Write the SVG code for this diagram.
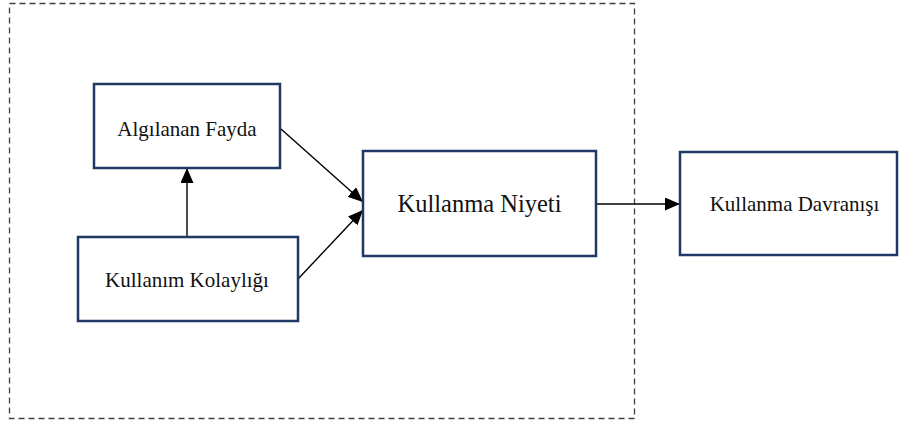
<svg xmlns="http://www.w3.org/2000/svg" width="903" height="426" viewBox="0 0 903 426">
<style>
.box{fill:#fff;stroke:#1f3864;stroke-width:2.5}
.lbl{font-family:"Liberation Serif","Times New Roman",serif;font-size:21px;fill:#111;text-anchor:middle}
.big{font-size:24.5px}
.con{stroke:#000;stroke-width:1.4;fill:none;marker-end:url(#ah)}
</style>
<defs>
<marker id="ah" viewBox="0 0 15 13" refX="15" refY="6.5" markerWidth="15" markerHeight="13" markerUnits="userSpaceOnUse" orient="auto">
<path d="M0,0 L15,6.5 L0,13 Z" fill="#000"/>
</marker>
</defs>
<rect id="frame" x="9.5" y="3.5" width="625" height="415" fill="none" stroke="#404040" stroke-width="1.3" stroke-dasharray="6,4"/>
<g id="connectors">
<line class="con" x1="187" y1="237" x2="187" y2="168"/>
<line class="con" x1="281" y1="129" x2="363" y2="202"/>
<line class="con" x1="298" y1="279" x2="363" y2="210"/>
<line class="con" x1="596" y1="204" x2="680" y2="204"/>
</g>
<g id="n-fayda">
<rect class="box" x="94" y="84" width="186" height="84"/>
<text class="lbl" x="187" y="136">Algılanan Fayda</text>
</g>
<g id="n-kolaylik">
<rect class="box" x="78" y="237" width="220" height="84"/>
<text class="lbl" x="187" y="287">Kullanım Kolaylığı</text>
</g>
<g id="n-niyet">
<rect class="box" x="363" y="151" width="233" height="105"/>
<text class="lbl big" x="479.5" y="212">Kullanma Niyeti</text>
</g>
<g id="n-davranis">
<rect class="box" x="680" y="152" width="217" height="103"/>
<text class="lbl" x="794.5" y="211">Kullanma Davranışı</text>
</g>
</svg>
